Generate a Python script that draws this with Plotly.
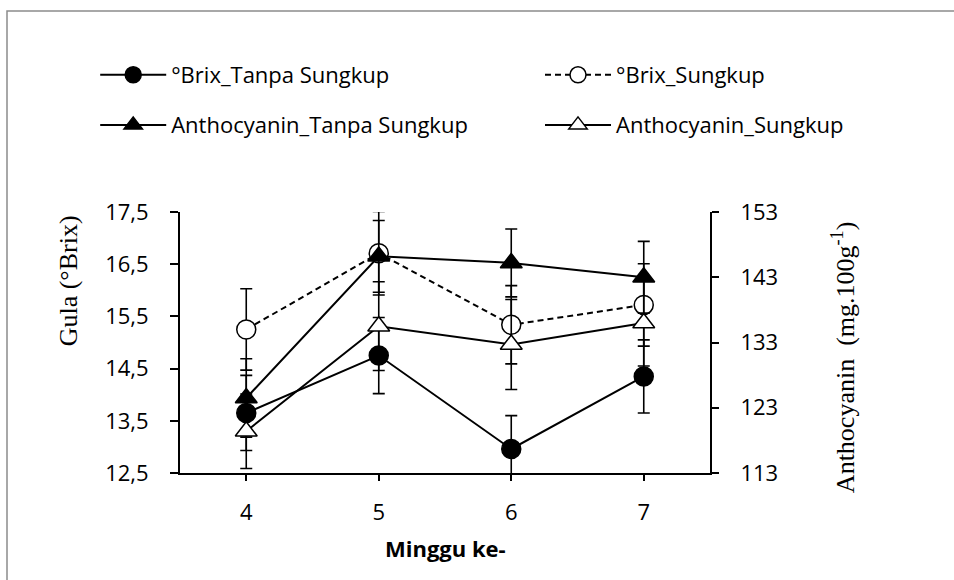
import plotly.graph_objects as go

weeks = [4, 5, 6, 7]
week_labels = ["4", "5", "6", "7"]

brix_tanpa = [13.65, 14.75, 12.96, 14.35]
brix_tanpa_err = [0.72, 0.73, 0.64, 0.70]
brix_sungkup = [15.25, 16.71, 15.34, 15.72]
brix_sungkup_err = [0.78, 0.80, 0.75, 0.79]
antho_tanpa = [124.5, 146.2, 145.2, 143.0]
antho_tanpa_err = [6.0, 5.5, 5.2, 5.5]
antho_sungkup = [119.4, 135.5, 132.7, 136.0]
antho_sungkup_err = [5.7, 6.8, 6.9, 6.6]

left_ticks = [12.5, 13.5, 14.5, 15.5, 16.5, 17.5]
right_ticks = [113, 123, 133, 143, 153]

SANS = "Open Sans"
SERIF = "Liberation Serif"


def err(vals):
    return dict(type="data", array=vals, visible=True, color="black",
                thickness=1.6, width=6)


fig = go.Figure()
fig.add_trace(go.Scatter(
    x=weeks, y=brix_tanpa, name="°Brix_Tanpa Sungkup", mode="lines+markers",
    line=dict(color="black", width=2),
    marker=dict(symbol="circle", size=19, color="black", line=dict(color="black", width=1.5)),
    error_y=err(brix_tanpa_err), legend="legend"))
fig.add_trace(go.Scatter(
    x=weeks, y=brix_sungkup, name="°Brix_Sungkup", mode="lines+markers",
    line=dict(color="black", width=2, dash="6px,4px"),
    marker=dict(symbol="circle", size=19, color="white", line=dict(color="black", width=1.5)),
    error_y=err(brix_sungkup_err), legend="legend2"))
fig.add_trace(go.Scatter(
    x=weeks, y=antho_tanpa, name="Anthocyanin_Tanpa Sungkup", mode="lines+markers",
    line=dict(color="black", width=2),
    marker=dict(symbol="triangle-up", size=19, color="black", line=dict(color="black", width=1.5)),
    error_y=err(antho_tanpa_err), yaxis="y2", legend="legend3"))
fig.add_trace(go.Scatter(
    x=weeks, y=antho_sungkup, name="Anthocyanin_Sungkup", mode="lines+markers",
    line=dict(color="black", width=2),
    marker=dict(symbol="triangle-up", size=19, color="white", line=dict(color="black", width=1.5)),
    error_y=err(antho_sungkup_err), yaxis="y2", legend="legend4"))

axis_common = dict(showgrid=False, zeroline=False, showline=True, linecolor="black",
                   linewidth=2, ticks="outside", tickcolor="black", tickwidth=2,
                   tickfont=dict(family=SANS, size=22, color="black"))

legend_common = dict(orientation="h", xanchor="left", yanchor="middle",
                     font=dict(family=SANS, size=22, color="black"),
                     bgcolor="rgba(0,0,0,0)", borderwidth=0, itemwidth=66)

col1_x = -0.16
col2_x = (540 - 180) / 530
row1_y = 1.525
row2_y = 1.333

fig.update_layout(
    width=954, height=580,
    margin=dict(l=180, r=244, t=212, b=107),
    paper_bgcolor="white", plot_bgcolor="white",
    separators=",.",
    showlegend=True,
    xaxis=dict(range=[3.5, 7.5], tickvals=weeks, ticktext=week_labels, ticklen=6,
               ticklabelstandoff=13, **axis_common),
    yaxis=dict(range=[12.5, 17.5], tickvals=left_ticks, tickformat=".1f", ticklen=8,
               ticklabelstandoff=17, **axis_common),
    yaxis2=dict(range=[113, 153], tickvals=right_ticks, overlaying="y", side="right",
                ticklen=7, ticklabelstandoff=17, **axis_common),
    legend=dict(x=col1_x, y=row1_y, **legend_common),
    legend2=dict(x=col2_x, y=row1_y, **legend_common),
    legend3=dict(x=col1_x, y=row2_y, **legend_common),
    legend4=dict(x=col2_x, y=row2_y, **legend_common),
    annotations=[
        dict(text="Gula (°Brix)", xref="paper", yref="paper", x=-0.211, y=0.735,
             textangle=-90, showarrow=False, xanchor="center", yanchor="middle",
             font=dict(family=SERIF, size=26, color="black")),
        dict(text="Anthocyanin  (mg.100g<sup>-1</sup>)", xref="paper", yref="paper",
             x=1.251, y=0.444, textangle=-90, showarrow=False,
             xanchor="center", yanchor="middle",
             font=dict(family=SERIF, size=26, color="black")),
        dict(text="<b>Minggu ke-</b>", xref="paper", yref="paper", x=0.5, y=-0.287,
             showarrow=False, xanchor="center", yanchor="middle",
             font=dict(family=SANS, size=22, color="black")),
    ],
    shapes=[
        dict(type="rect", xref="paper", yref="paper",
             x0=(7 - 180) / 530, x1=(960 - 180) / 530,
             y0=(473 - 590) / 261, y1=(473 - 11) / 261,
             line=dict(color="#8c8c8c", width=1.5), fillcolor="rgba(0,0,0,0)",
             layer="below"),
    ],
)

fig.write_html("out.html", config={"displayModeBar": False},
               post_script="document.body.style.margin='0';")
